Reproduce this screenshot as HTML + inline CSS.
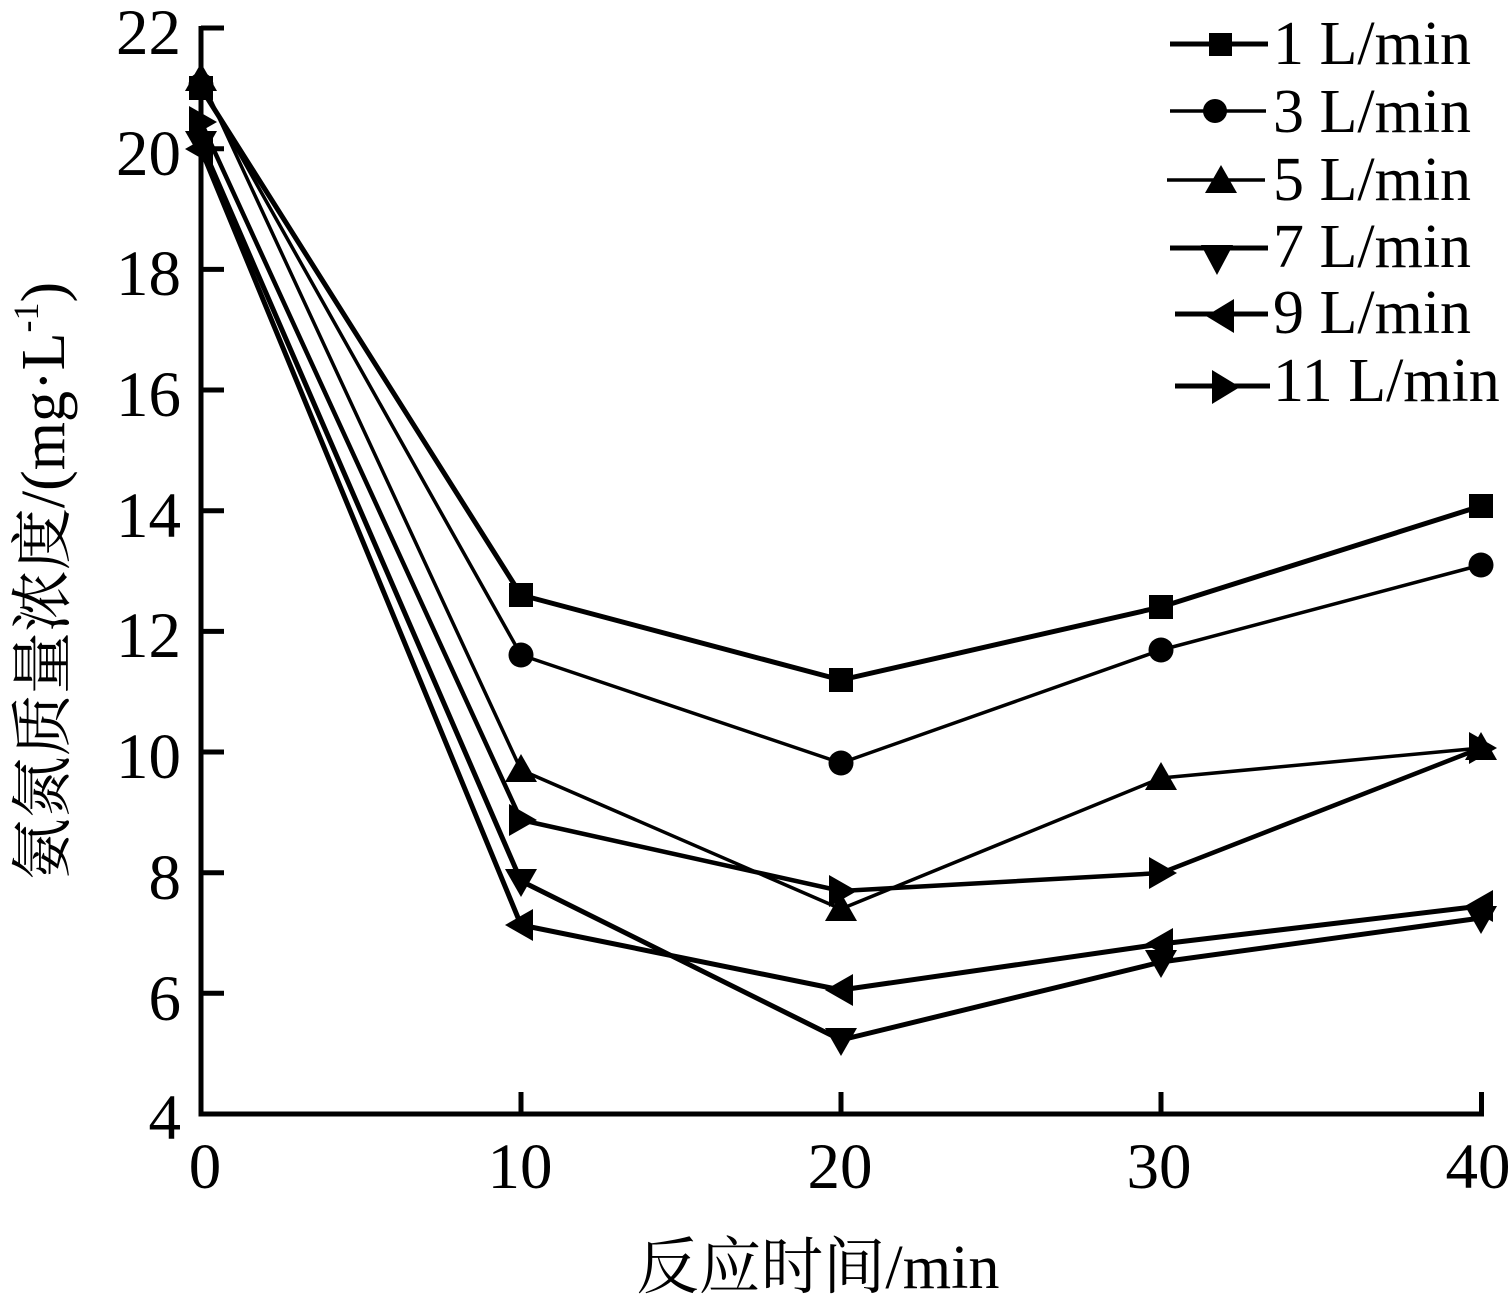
<!DOCTYPE html>
<html>
<head>
<meta charset="utf-8">
<style>
  html,body{margin:0;padding:0;background:#fff;}
  svg{display:block;}
  text{font-family:"Liberation Serif","Noto Serif CJK SC","Noto Sans CJK SC",serif;fill:#000;}
</style>
</head>
<body>
<svg width="1512" height="1299" viewBox="0 0 1512 1299" xmlns="http://www.w3.org/2000/svg">
  <rect x="0" y="0" width="1512" height="1299" fill="#fff"/>

  <!-- axes -->
  <g stroke="#000" stroke-width="5" fill="none" stroke-linecap="butt">
    <line x1="201" y1="26" x2="201" y2="1116.5"/>
    <line x1="198.5" y1="1114" x2="1484" y2="1114"/>
    <!-- y ticks -->
    <line x1="201" y1="28" x2="224" y2="28"/>
    <line x1="201" y1="148.7" x2="224" y2="148.7"/>
    <line x1="201" y1="269.4" x2="224" y2="269.4"/>
    <line x1="201" y1="390" x2="224" y2="390"/>
    <line x1="201" y1="510.7" x2="224" y2="510.7"/>
    <line x1="201" y1="631.4" x2="224" y2="631.4"/>
    <line x1="201" y1="752" x2="224" y2="752"/>
    <line x1="201" y1="872.7" x2="224" y2="872.7"/>
    <line x1="201" y1="993.3" x2="224" y2="993.3"/>
    <!-- x ticks -->
    <line x1="521" y1="1114" x2="521" y2="1092"/>
    <line x1="841" y1="1114" x2="841" y2="1092"/>
    <line x1="1161" y1="1114" x2="1161" y2="1092"/>
    <line x1="1481.5" y1="1114" x2="1481.5" y2="1092"/>
  </g>

  <!-- y tick labels -->
  <g font-size="65" text-anchor="end">
    <text x="181" y="54">22</text>
    <text x="181" y="175">20</text>
    <text x="181" y="295">18</text>
    <text x="181" y="416">16</text>
    <text x="181" y="537">14</text>
    <text x="181" y="657">12</text>
    <text x="181" y="778">10</text>
    <text x="181" y="899">8</text>
    <text x="181" y="1020">6</text>
    <text x="181" y="1139">4</text>
  </g>

  <!-- x tick labels -->
  <g font-size="65" text-anchor="middle">
    <text x="205" y="1188">0</text>
    <text x="520" y="1188">10</text>
    <text x="840" y="1188">20</text>
    <text x="1159" y="1188">30</text>
    <text x="1478" y="1188">40</text>
  </g>

  <!-- axis titles -->
  <text x="818" y="1288" font-size="62" text-anchor="middle" textLength="363" lengthAdjust="spacingAndGlyphs">反应时间/min</text>
  <text transform="translate(64,581) rotate(-90)" font-size="62" text-anchor="middle">氨氮质量浓度/(mg·L<tspan font-size="36" dy="-26">-1</tspan><tspan dy="26">)</tspan></text>

  <!-- series lines -->
  <g fill="none" stroke="#000" stroke-linejoin="round">
    <polyline stroke-width="5" points="201,88 521,595 841,680 1161,607 1481,506"/>
    <polyline stroke-width="3.5" points="201,85 521,655 841,763 1161,650 1481,565"/>
    <polyline stroke-width="3.5" points="201,79 521,770 841,909 1161,778 1481,748"/>
    <polyline stroke-width="5" points="201,143 521,881 841,1040 1161,962 1481,918"/>
    <polyline stroke-width="5" points="201,149 521,925 841,990 1161,944 1481,906"/>
    <polyline stroke-width="4.5" points="201,122 521,820 841,891 1161,873 1481,748"/>
  </g>

  <!-- markers -->
  <g fill="#000">
    <!-- 1 L/min squares -->
    <rect x="189" y="76" width="24" height="24"/>
    <rect x="509" y="583" width="24" height="24"/>
    <rect x="829" y="668" width="24" height="24"/>
    <rect x="1149" y="595" width="24" height="24"/>
    <rect x="1469" y="494" width="24" height="24"/>
    <!-- 3 L/min circles -->
    <circle cx="201" cy="85" r="12.5"/>
    <circle cx="521" cy="655" r="12.5"/>
    <circle cx="841" cy="763" r="12.5"/>
    <circle cx="1161" cy="650" r="12.5"/>
    <circle cx="1481" cy="565" r="12.5"/>
    <!-- 5 L/min up triangles -->
    <polygon points="0,-16 16,12 -16,12" transform="translate(201,79)"/>
    <polygon points="0,-16 16,12 -16,12" transform="translate(521,770)"/>
    <polygon points="0,-16 16,12 -16,12" transform="translate(841,909)"/>
    <polygon points="0,-16 16,12 -16,12" transform="translate(1161,778)"/>
    <polygon points="0,-16 16,12 -16,12" transform="translate(1481,748)"/>
    <!-- 7 L/min down triangles -->
    <polygon points="-16,-12 16,-12 0,16" transform="translate(201,143)"/>
    <polygon points="-16,-12 16,-12 0,16" transform="translate(521,881)"/>
    <polygon points="-16,-12 16,-12 0,16" transform="translate(841,1040)"/>
    <polygon points="-16,-12 16,-12 0,16" transform="translate(1161,962)"/>
    <polygon points="-16,-12 16,-12 0,16" transform="translate(1481,918)"/>
    <!-- 9 L/min left triangles -->
    <polygon points="-16,0 12,-16 12,16" transform="translate(201,149)"/>
    <polygon points="-16,0 12,-16 12,16" transform="translate(521,925)"/>
    <polygon points="-16,0 12,-16 12,16" transform="translate(841,990)"/>
    <polygon points="-16,0 12,-16 12,16" transform="translate(1161,944)"/>
    <polygon points="-16,0 12,-16 12,16" transform="translate(1481,906)"/>
    <!-- 11 L/min right triangles -->
    <polygon points="16,0 -12,-16 -12,16" transform="translate(201,122)"/>
    <polygon points="16,0 -12,-16 -12,16" transform="translate(521,820)"/>
    <polygon points="16,0 -12,-16 -12,16" transform="translate(841,891)"/>
    <polygon points="16,0 -12,-16 -12,16" transform="translate(1161,873)"/>
    <polygon points="16,0 -12,-16 -12,16" transform="translate(1481,748)"/>
  </g>

  <!-- legend -->
  <g stroke="#000" fill="none">
    <line x1="1170" y1="44" x2="1268" y2="44" stroke-width="5"/>
    <line x1="1170" y1="111" x2="1266" y2="111" stroke-width="3.5"/>
    <line x1="1167" y1="180" x2="1265" y2="180" stroke-width="3.5"/>
    <line x1="1170" y1="248" x2="1268" y2="248" stroke-width="5"/>
    <line x1="1175" y1="314" x2="1268" y2="314" stroke-width="5"/>
    <line x1="1175" y1="386" x2="1270" y2="386" stroke-width="5"/>
  </g>
  <g fill="#000">
    <rect x="1209" y="33" width="23" height="23"/>
    <circle cx="1215" cy="111" r="12"/>
    <polygon points="0,-15 16,13 -16,13" transform="translate(1221,180)"/>
    <polygon points="-16,-6 16,-6 0,24" transform="translate(1217,251)"/>
    <polygon points="-16,0 12,-17 12,17" transform="translate(1222,316)"/>
    <polygon points="16,0 -12,-17 -12,17" transform="translate(1224,387)"/>
  </g>
  <g font-size="62">
    <text x="1273" y="64">1 L/min</text>
    <text x="1273" y="132">3 L/min</text>
    <text x="1273" y="200">5 L/min</text>
    <text x="1273" y="267">7 L/min</text>
    <text x="1273" y="333">9 L/min</text>
    <text x="1273" y="401">11 L/min</text>
  </g>
</svg>
</body>
</html>
